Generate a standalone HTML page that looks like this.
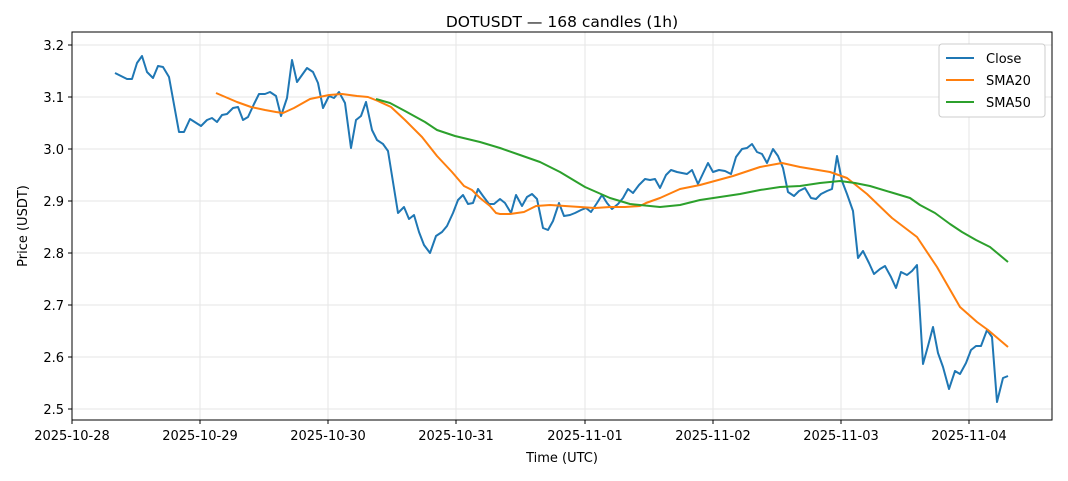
<!DOCTYPE html><html><head><meta charset="utf-8"><style>body{margin:0;background:#fff}svg{display:block;font-family:"DejaVu Sans","Liberation Sans",sans-serif}</style></head><body>
<svg width="1068" height="481" viewBox="0 0 1068 481">
<rect width="1068" height="481" fill="#fff"/>
<g stroke="#e5e5e5" stroke-width="1">
<line x1="72" x2="1052" y1="45" y2="45"/><line x1="72" x2="1052" y1="97" y2="97"/><line x1="72" x2="1052" y1="149" y2="149"/><line x1="72" x2="1052" y1="201" y2="201"/><line x1="72" x2="1052" y1="253" y2="253"/><line x1="72" x2="1052" y1="305" y2="305"/><line x1="72" x2="1052" y1="357" y2="357"/><line x1="72" x2="1052" y1="409" y2="409"/>
<line y1="32" y2="420" x1="72" x2="72"/><line y1="32" y2="420" x1="200" x2="200"/><line y1="32" y2="420" x1="328" x2="328"/><line y1="32" y2="420" x1="456" x2="456"/><line y1="32" y2="420" x1="585" x2="585"/><line y1="32" y2="420" x1="713" x2="713"/><line y1="32" y2="420" x1="841" x2="841"/><line y1="32" y2="420" x1="969" x2="969"/>
</g>
<g fill="none" stroke-width="2" stroke-linejoin="round">
<polyline stroke="#1f77b4" points="115,73 127,79 132,79 137,63 142,56 147,72 153,78 158,66 163,67 169,77 179,132 184,132 190,119 201,126 207,120 212,118 217,122 222,115 227,114 233,108 238,107 243,120 248,117 254,104 259,94 265,94 270,92 276,96 281,116 287,98 292,60 297,82 307,68 313,72 318,83 323,108 329,96 334,98 339,92 345,103 351,148 356,120 361,116 366,102 372,130 377,140 383,144 388,151 398,213 404,207 409,219 414,215 419,232 424,245 430,253 436,236 442,232 447,226 453,213 458,200 463,195 468,204 473,203 478,189 483,196 489,204 494,204 500,199 505,203 511,213 516,195 522,206 527,197 532,194 537,199 543,228 548,230 553,221 559,203 564,216 570,215 575,213 581,210 586,208 591,212 597,203 602,195 607,203 612,209 618,204 623,198 628,189 633,193 639,185 645,179 650,180 655,179 660,188 666,175 671,170 677,172 682,173 687,174 692,170 698,184 708,163 713,172 719,170 725,171 731,174 736,157 742,149 747,148 752,144 757,152 762,154 767,163 773,149 778,156 783,168 788,192 794,196 799,191 805,188 811,198 816,199 821,194 827,191 832,189 837,156 842,181 847,194 853,211 858,258 863,251 869,263 874,274 880,269 885,266 891,277 896,288 901,272 907,275 912,271 917,265 923,364 928,346 933,327 938,353 943,367 949,389 955,371 960,374 966,363 971,350 976,346 981,346 987,330 992,337 997,402 1003,378 1008,376"/>
<polyline stroke="#ff7f0e" points="216,93 237,102 251,107 265,110 276,112 283,113 294,108 310,99 329,95 342,94 357,96 368,97 378,101 391,107 405,120 422,137 437,156 452,172 464,186 472,190 480,198 490,206 496,213 500,214 510,214 524,212 536,206 550,205 565,206 580,207 595,208 610,207 625,207 640,206 646,203 660,198 680,189 700,185 733,176 760,167 782,163 800,167 830,172 847,178 867,194 892,218 917,237 937,267 960,307 977,322 988,330 1008,347"/>
<polyline stroke="#2ca02c" points="376,99 390,103 405,111 425,122 437,130 455,136 480,142 500,148 520,155 540,162 560,172 585,187 610,198 630,204 660,207 680,205 700,200 720,197 740,194 760,190 780,187 800,186 820,183 840,181 855,183 870,186 890,192 910,198 920,205 935,213 950,224 962,232 976,240 990,247 1008,262"/>
</g>
<rect x="72" y="32" width="980" height="388" fill="none" stroke="#000" stroke-width="1"/>
<g stroke="#000"><line x1="68" x2="72" y1="45" y2="45"/><line x1="68" x2="72" y1="97" y2="97"/><line x1="68" x2="72" y1="149" y2="149"/><line x1="68" x2="72" y1="201" y2="201"/><line x1="68" x2="72" y1="253" y2="253"/><line x1="68" x2="72" y1="305" y2="305"/><line x1="68" x2="72" y1="357" y2="357"/><line x1="68" x2="72" y1="409" y2="409"/>
<line y1="420" y2="424" x1="72" x2="72"/><line y1="420" y2="424" x1="200" x2="200"/><line y1="420" y2="424" x1="328" x2="328"/><line y1="420" y2="424" x1="456" x2="456"/><line y1="420" y2="424" x1="585" x2="585"/><line y1="420" y2="424" x1="713" x2="713"/><line y1="420" y2="424" x1="841" x2="841"/><line y1="420" y2="424" x1="969" x2="969"/></g>
<g font-size="13" fill="#000" text-anchor="end"><text x="64" y="50">3.2</text><text x="64" y="102">3.1</text><text x="64" y="154">3.0</text><text x="64" y="206">2.9</text><text x="64" y="258">2.8</text><text x="64" y="310">2.7</text><text x="64" y="362">2.6</text><text x="64" y="414">2.5</text></g>
<g font-size="13" fill="#000" text-anchor="middle"><text x="72" y="440">2025-10-28</text><text x="200" y="440">2025-10-29</text><text x="328" y="440">2025-10-30</text><text x="456" y="440">2025-10-31</text><text x="585" y="440">2025-11-01</text><text x="713" y="440">2025-11-02</text><text x="841" y="440">2025-11-03</text><text x="969" y="440">2025-11-04</text>
<text x="562" y="462">Time (UTC)</text><text x="562" y="27" font-size="15.5">DOTUSDT — 168 candles (1h)</text></g>
<text transform="translate(27,226) rotate(-90)" font-size="13" text-anchor="middle">Price (USDT)</text>
<rect x="939" y="44" width="106" height="73" rx="3" fill="#fff" stroke="#ccc"/>
<g stroke-width="2"><line x1="946" x2="974" y1="58" y2="58" stroke="#1f77b4"/><line x1="946" x2="974" y1="80" y2="80" stroke="#ff7f0e"/><line x1="946" x2="974" y1="102" y2="102" stroke="#2ca02c"/></g>
<g font-size="13"><text x="986" y="63">Close</text><text x="986" y="85">SMA20</text><text x="986" y="107">SMA50</text></g>
</svg></body></html>
